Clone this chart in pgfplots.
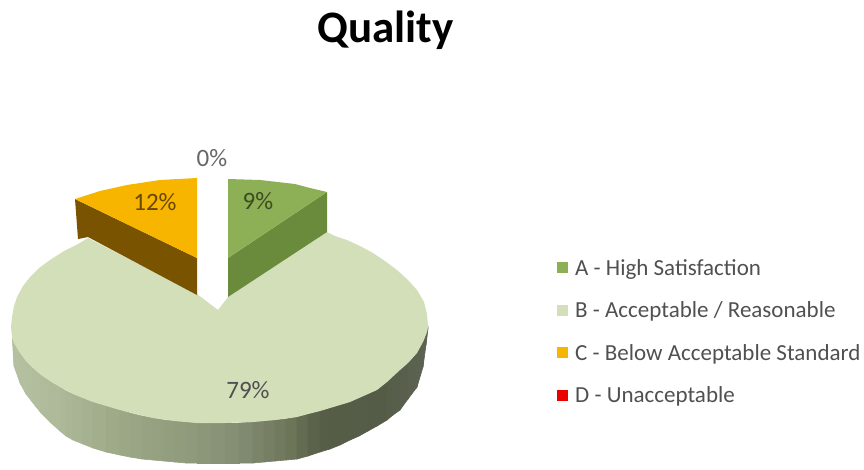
\documentclass[border=0pt]{standalone}
\usepackage{fontspec}
\setmainfont{Carlito}
\usepackage{pgfplots}
\pgfplotsset{compat=1.18}
\definecolor{greenTop}{HTML}{8DAF55}
\definecolor{greenWall}{HTML}{6A8A3C}
\definecolor{paleTop}{HTML}{D3DFB9}
\definecolor{orangeTop}{HTML}{F7B500}
\definecolor{orangeWall}{HTML}{7A5300}
\definecolor{labelInk}{HTML}{505050}
\begin{document}
\begin{tikzpicture}
\path[use as bounding box] (0,0) rectangle (864pt,469pt);
\begin{axis}[
  at={(0,0)}, anchor=south west,
  scale only axis, width=864pt, height=469pt,
  xmin=0, xmax=864, ymin=0, ymax=469, y dir=reverse,
  axis lines=none, ticks=none, clip=false,
  colormap={sidewall}{
    rgb255(12)=(182,193,161) rgb255(60)=(173,185,152) rgb255(120)=(156,168,134)
    rgb255(190)=(143,154,124) rgb255(240)=(131,141,115) rgb255(290)=(109,118,89)
    rgb255(320)=(86,94,71) rgb255(380)=(84,91,71) rgb255(428)=(94,100,83)},
  point meta min=12, point meta max=428,
  legend cell align=left,
  legend image code/.code={\fill[#1,draw=none] (0pt,-5.5pt) rectangle (11pt,5.5pt);},
  legend style={at={(0.6447,0.448)}, anchor=north west, draw=none, fill=none,
    row sep=25pt, inner sep=0pt, text=labelInk,
    font=\fontsize{23}{25}\selectfont,
    nodes={inner sep=0pt},
    /tikz/every odd column/.append style={column sep=7pt}},
]
% curved side of the large slice: upper edge, then lower edge
\addplot[surf, shader=faceted, faceted color=mapped color, line width=0.6pt,
    point meta=explicit, mesh/rows=2, mesh/cols=45, forget plot]
  table[x=x, y=y, meta=c] {
x y c
12.5 339 12.5
14 343 14
20 353 20
26 361 26
33 368 33
41 375 41
50 381 50
60 387 60
66 391 66
73 394 73
83 398 83
93 402 93
106 406 106
120 410 120
130 413 130
142 416 142
153 418 153
164 420 164
175 421 175
186 422 186
197 423 197
211 423 211
225 423 225
239 423 239
253 422 253
264 421 264
275 420 275
286 419 286
297 417 297
308 414 308
320 411 320
330 408 330
340 405 340
350 402 350
359 398 359
368 394 368
377 390 377
387 382 387
393 376 393
400 370 400
408 363 408
417 353 417
423 342 423
426 335 426
428 328 428
12.5 342 12.5
14 366 14
20 383 20
26 394 26
33 403 33
41 413 41
50 422 50
60 431 60
66 436 66
73 440 73
83 444 83
93 448 93
106 452 106
120 455 120
130 457 130
142 459 142
153 460 153
164 461 164
175 462 175
186 463 186
197 463 197
211 463 211
225 463 225
239 463 239
253 463 253
264 462 264
275 461 275
286 460 286
297 459 297
308 456 308
320 452 320
330 449 330
340 445 340
350 440 350
359 436 359
368 431 368
377 426 377
387 420 387
393 415 393
400 410 400
408 399 408
417 387 417
423 367 423
426 345 426
428 329 428
};
% top face of the large slice, 79%
\addplot[fill=paleTop, draw=none, forget plot] coordinates {
 (218,310) (228,297) (327,232) (335,236) (347,240) (360,246) (373,253) (385,261)
 (397,270) (408,280) (417,290) (424,302) (427,314)
 (428,327) (427,332) (423,342) (417,353) (408,363) (400,370) (387,382) (377,390)
 (368,394) (359,398) (350,402) (340,405) (330,408) (320,411) (308,414) (297,417)
 (275,420) (253,422) (225,423) (197,423)
 (175,421) (153,418) (120,410) (93,402) (73,394) (60,387) (50,381) (41,375)
 (33,368) (26,361) (20,353) (14,343) (12,337) (11,327) (12,317) (14,306) (17,297)
 (23,286) (30,277) (39,268) (50,260) (64,251) (78,244) (88,238) (197,294)} --cycle;
% orange slice, 12%
\addplot[fill=orangeWall, draw=none, forget plot] coordinates {
 (75,199) (197,258) (197,295) (88,237) (78,239)} --cycle;
\addplot[fill=orangeTop, draw=none, forget plot] coordinates {
 (197,258) (197,178) (160,180) (127,185) (100,191) (75,199)} --cycle;
% green slice, 9%
\addplot[fill=greenWall, draw=none, forget plot] coordinates {
 (228,258) (327,192) (327,232) (228,297)} --cycle;
\addplot[fill=greenTop, draw=none, forget plot] coordinates {
 (228,258) (228,179) (260,180) (295,184) (310,188) (327,192)} --cycle;

\addlegendimage{fill=greenTop}
\addlegendentry{A - High Satisfaction}
\addlegendimage{fill=paleTop}
\addlegendentry{B - Acceptable / Reasonable}
\addlegendimage{fill=orangeTop}
\addlegendentry{C - Below Acceptable Standard}
\addlegendimage{fill=red!92!black}
\addlegendentry{D - Unacceptable}

\node[anchor=base, font=\bfseries\fontsize{45}{50}\selectfont, text=black] at (axis cs:385.5,42) {Quality};
\begin{scope}[every node/.style={font=\fontsize{25}{27}\selectfont}]
\node[text=black!60] at (axis cs:212,158) {0\%};
\node[text=orangeWall!85!black] at (axis cs:155,202) {12\%};
\node[text=greenWall!55!black] at (axis cs:258,201) {9\%};
\node[text=labelInk] at (axis cs:248,390) {79\%};
\end{scope}
\end{axis}
\end{tikzpicture}
\end{document}
